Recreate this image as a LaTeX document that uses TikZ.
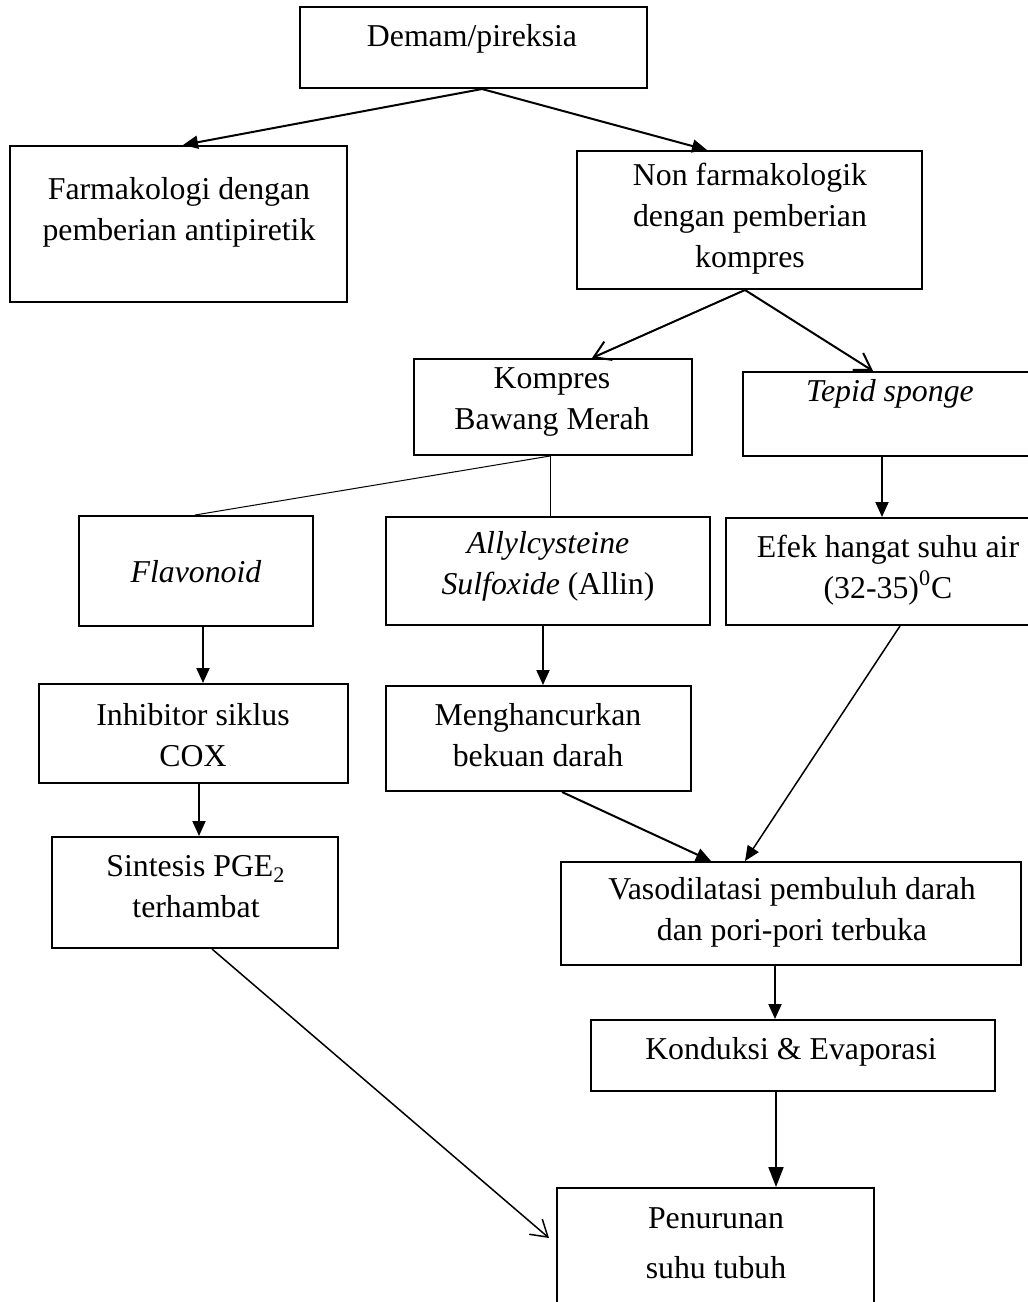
\documentclass[tikz,border=0pt]{standalone}
\usepackage{fontspec}
\setmainfont{Liberation Serif}
\usetikzlibrary{arrows.meta, calc, fit}
\tikzset{kotak/.style={draw, line width=1pt, inner sep=0pt}}
\tikzset{tulisan/.style={align=center, inner sep=0pt, font=\fontsize{15.9}{20.5}\selectfont}}
\tikzset{next/.style={-{Triangle[length=7.5pt, width=6.5pt]}, line width=1pt}}
\tikzset{buka/.style={-{Straight Barb[length=8pt, width=10pt]}, line width=1pt}}
\tikzset{garis/.style={line width=.5pt}}
\newcommand{\kotak}[3]{\node[kotak, fit={#2 #3}] (#1) {};}

\begin{document}
\begin{tikzpicture}[x=.5pt, y=-.5pt]
  \clip (0,0) rectangle (1028,1302);

  % --- demam ---
  \kotak{demam}{(300,7)}{(647,88)}
  \node[tulisan] (demamT) at (472,39) {Demam/pireksia};

  % --- farmakologi / non farmakologik ---
  \kotak{farma}{(10,146)}{(347,302)}
  \node[tulisan] (farmaT) at (179,212) {Farmakologi dengan\\pemberian antipiretik};
  \kotak{nonfarma}{(577,151)}{(922,289)}
  \node[tulisan] (nonfarmaT) at (750,219) {Non farmakologik\\dengan pemberian\\kompres};
  \draw[next] (482,0 |- demam.south) -- (183,0 |- farma.north);
  \draw[next] (482,0 |- demam.south) -- (707,0 |- nonfarma.north);

  % --- jenis kompres ---
  \kotak{bawang}{(414,359)}{(692,455)}
  \node[tulisan] (bawangT) at (552,402) {Kompres\\Bawang Merah};
  \kotak{tepid}{(743,372)}{(1050,456)}
  \node[tulisan] (tepidT) at (890,394) {\textit{Tepid sponge}};
  \draw[buka] (745,0 |- nonfarma.south) -- (592,0 |- bawang.north);
  \draw[buka] (745,0 |- nonfarma.south) -- (873,0 |- tepid.north);

  % --- kandungan / efek ---
  \kotak{flavo}{(79,516)}{(313,626)}
  \node[tulisan] (flavoT) at (196,572) {\textit{Flavonoid}};
  \kotak{allyl}{(386,517)}{(710,625)}
  \node[tulisan] (allylT) at (548,566) {\textit{Allylcysteine}\\\textit{Sulfoxide} (Allin)};
  \kotak{efek}{(726,518)}{(1050,625)}
  \node[tulisan] (efekT) at (888,570) {Efek hangat suhu air\\(32-35)\textsuperscript{0}C};
  \draw[garis] (550,0 |- bawang.south) -- (195,0 |- flavo.north);
  \draw[garis] (550,0 |- bawang.south) -- (550,0 |- allyl.north);
  \draw[next] (882,0 |- tepid.south) -- (882,0 |- efek.north);

  % --- mekanisme ---
  \kotak{inhib}{(39,684)}{(348,783)}
  \node[tulisan] (inhibT) at (193,735) {Inhibitor siklus\\COX};
  \kotak{hancur}{(386,686)}{(691,791)}
  \node[tulisan] (hancurT) at (538,735) {Menghancurkan\\bekuan darah};
  \kotak{pge}{(52,837)}{(338,948)}
  \node[tulisan] (pgeT) at (196,887) {Sintesis PGE\textsubscript{2}\\terhambat};
  \kotak{vaso}{(561,862)}{(1021,965)}
  \node[tulisan] (vasoT) at (792,912) {Vasodilatasi pembuluh darah\\dan pori-pori terbuka};
  \draw[next] (203,0 |- flavo.south) -- (203,0 |- inhib.north);
  \draw[next] (199,0 |- inhib.south) -- (199,0 |- pge.north);
  \draw[next] (543,0 |- allyl.south) -- (543,0 |- hancur.north);
  \draw[next] (562,0 |- hancur.south) -- (711,0 |- vaso.north);
  \draw[next, line width=.75pt] (900,0 |- efek.south) -- (745,0 |- vaso.north);

  % --- hasil ---
  \kotak{konduksi}{(591,1020)}{(995,1091)}
  \node[tulisan] (konduksiT) at (791,1052) {Konduksi \& Evaporasi};
  \kotak{turun}{(557,1188)}{(874,1330)}
  \node[tulisan] (turunT) at (716,1243) {Penurunan\\[4.5pt]suhu tubuh};
  \draw[next] (775,0 |- vaso.south) -- (775,0 |- konduksi.north);
  \draw[-{Triangle[length=10pt, width=7.5pt]}, line width=1pt] (776,0 |- konduksi.south) -- (776,0 |- turun.north);
  \draw[buka, line width=.75pt] (212,0 |- pge.south) -- ($(turun.west |- 0,1238)+(-7,0)$);

\end{tikzpicture}
\end{document}
